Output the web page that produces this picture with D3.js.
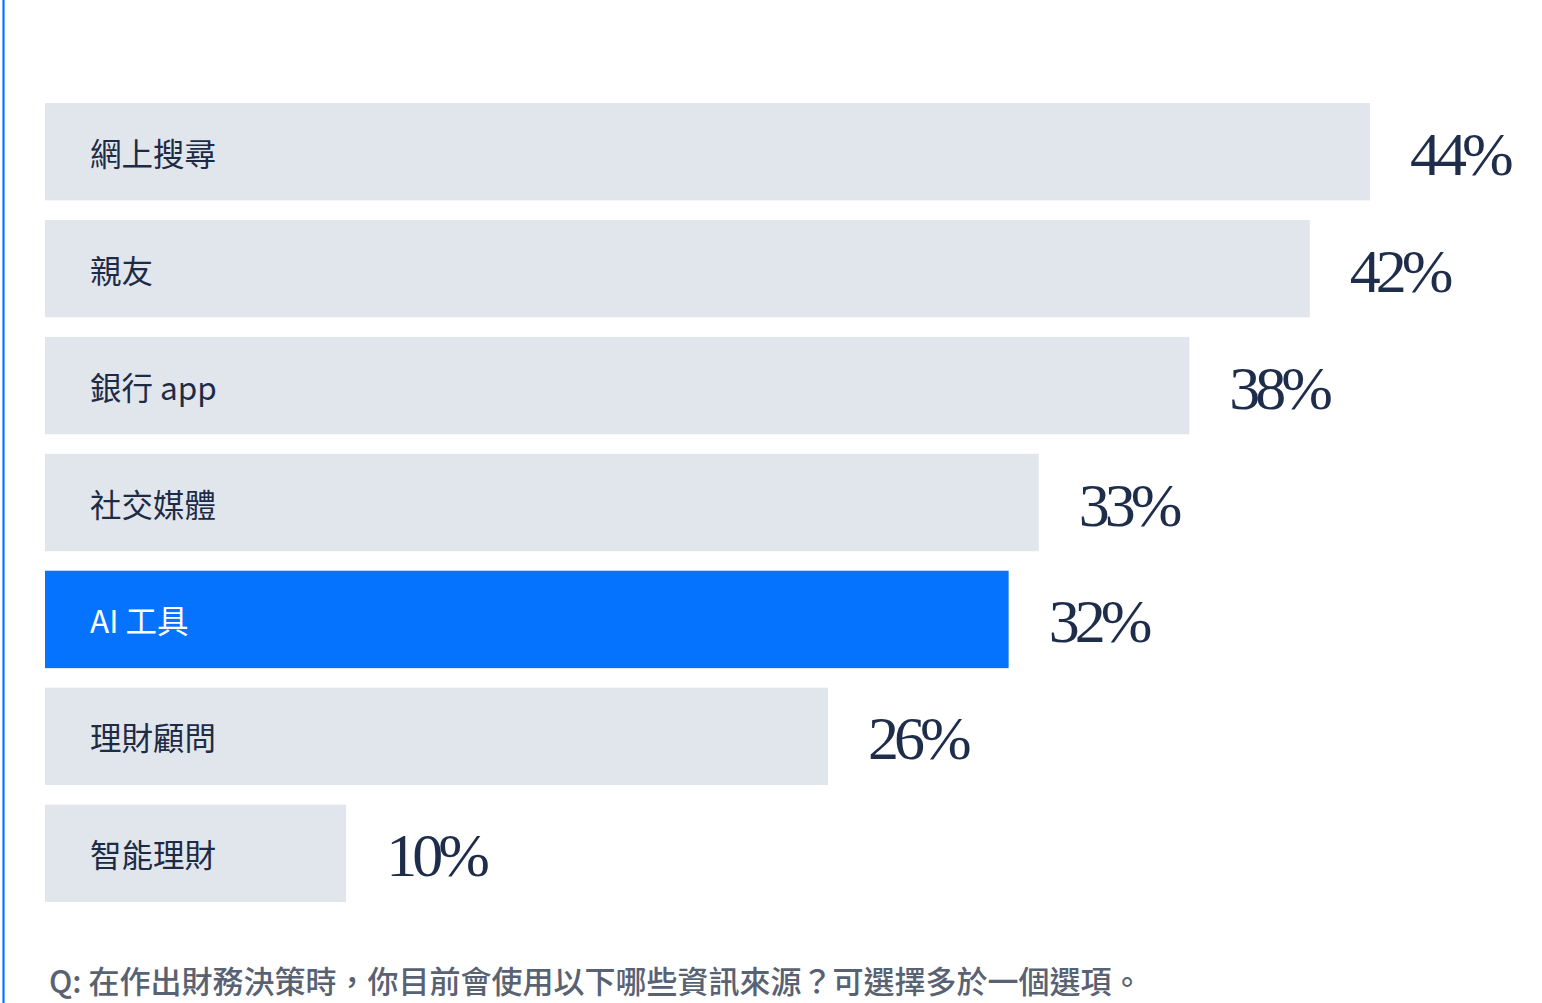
<!DOCTYPE html>
<html><head><meta charset="utf-8">
<script src="https://cdn.jsdelivr.net/npm/d3@7"></script>
<style>
html,body{margin:0;padding:0;background:#fff;}
svg{display:block;}
</style></head>
<body>
<script>
const categories = ["網上搜尋","親友","銀行 app","社交媒體","AI 工具","理財顧問","智能理財"];
const values = [44,42,38,33,32,26,10];
const highlight = ["AI 工具"];
const question = "Q: 在作出財務決策時，你目前會使用以下哪些資訊來源？可選擇多於一個選項。";

const W = 1542, H = 1003;
const svg = d3.select("body").append("svg").attr("width", W).attr("height", H);

// left accent line
svg.append("line").attr("x1",3.5).attr("x2",3.5).attr("y1",0).attr("y2",H)
  .attr("stroke","#0a73ff").attr("stroke-width",2.2);

const x = d3.scaleLinear().domain([0,44]).range([45,1370]);
const y = d3.scaleBand().domain(categories).range([103,902]).paddingInner(0.167).paddingOuter(0);

const data = categories.map((c,i)=>({c, v: values[i]}));

const g = svg.append("g");
g.selectAll("rect").data(data).join("rect")
  .attr("x", x(0)).attr("y", d=>y(d.c))
  .attr("width", d=>x(d.v)-x(0)).attr("height", y.bandwidth())
  .attr("fill", d=> highlight.includes(d.c) ? "#0673ff" : "#e1e6ed");

g.selectAll("text.cat").data(data).join("text").attr("class","cat")
  .attr("x", 90).attr("y", d=>y(d.c)+y.bandwidth()/2)
  .attr("dominant-baseline","central")
  .attr("font-family","'Noto Sans CJK TC','Noto Sans',sans-serif")
  .attr("font-size",31.5)
  .attr("fill", d=> highlight.includes(d.c) ? "#ffffff" : "#1e2b45")
  .text(d=>d.c);

g.selectAll("text.val").data(data).join("text").attr("class","val")
  .attr("x", d=>x(d.v)+40).attr("y", d=>y(d.c)+y.bandwidth()/2+23)
  .attr("font-family","'Liberation Serif','DejaVu Serif',serif")
  .attr("font-size",62)
  .attr("letter-spacing",-5)
  .attr("fill","#1e2d4a")
  .text(d=>d.v+"%");

svg.append("text").attr("x",49).attr("y",979)
  .attr("dominant-baseline","central")
  .attr("font-family","'Noto Sans CJK TC','Noto Sans',sans-serif")
  .attr("font-size",31).attr("font-weight",500)
  .attr("fill","#596273")
  .text(question);
</script>
</body></html>
